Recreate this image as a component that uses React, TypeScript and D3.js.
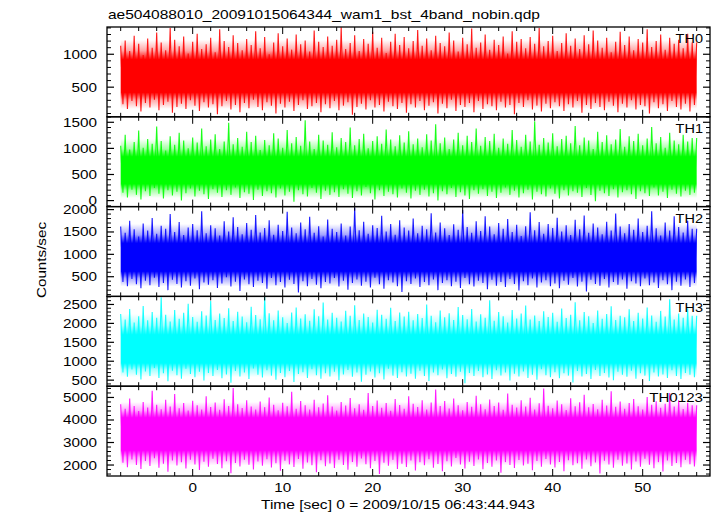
import React from "react";
import * as d3 from "d3";

// ---------- data (read/estimated from the reference) ----------
const TITLE = "ae504088010_20091015064344_wam1_bst_4band_nobin.qdp";
const X_LABEL = "Time [sec] 0 = 2009/10/15 06:43:44.943";
const Y_LABEL = "Counts/sec";
const PANEL_NAMES = ["TH0", "TH1", "TH2", "TH3", "TH0123"];
const PANEL_COLORS = ["#ff0000", "#00ff00", "#0000ff", "#00ffff", "#ff00ff"];
const T_START = -8;
const T_END = 56;
const X_DOMAIN = [-9.52, 57.48];
const X_MAJOR = [0, 10, 20, 30, 40, 50];
const Y_DOMAINS = [
  [50, 1414],
  [-115, 1605],
  [60, 2067],
  [340, 2713],
  [1513, 5500],
];
const Y_MAJOR = [
  [500, 1000],
  [0, 500, 1000, 1500],
  [500, 1000, 1500, 2000],
  [500, 1000, 1500, 2000, 2500],
  [2000, 3000, 4000, 5000],
];
const Y_MINOR_STEP = [100, 100, 100, 100, 200];
// densest band of each curve, and the range of its frequent excursions
const CORE_LOW = [420, 320, 620, 950, 2650];
const CORE_HIGH = [920, 840, 1250, 1700, 4100];
const FRINGE_LOW = [170, 50, 280, 580, 1980];
const FRINGE_HIGH = [1220, 1180, 1680, 2250, 4800];

// upper / lower excursions of each light curve, 0.5 s per value
const TH0_HI = [
  1130, 1210, 1050, 1280, 1160, 990, 1240, 1100, 1330, 1180, 1060, 1400, 1220, 1120, 1270, 1010,
  1190, 1310, 1080, 1150, 1250, 1030, 1380, 1200, 1110, 1290, 1170, 1060, 1230, 1140, 1350, 1090,
  1260, 1000, 1180, 1320, 1120, 1240, 1070, 1300, 1150, 1210, 1040, 1360, 1190, 1110, 1270, 1130,
  1220, 1410, 1080, 1170, 1290, 1050, 1230, 1160, 1340, 1100, 1250, 1020, 1190, 1310, 1140, 1260,
  1090, 1200, 1370, 1130, 1240, 1060, 1280, 1170, 1120, 1330, 1210, 1040, 1250, 1150, 1390, 1100,
  1180, 1300, 1070, 1220, 1140, 1270, 1010, 1350, 1190, 1230, 1090, 1260, 1160, 1400, 1120, 1200,
  1280, 1050, 1170, 1320, 1130, 1240, 1080, 1290, 1150, 1360, 1210, 1100, 1250, 1030, 1190, 1340,
  1140, 1270, 1060, 1230, 1180, 1380, 1110, 1200, 1300, 1070, 1250, 1160, 1220, 1090, 1310, 1180,
];
const TH0_LO = [
  240, 170, 290, 210, 130, 260, 190, 310, 150, 230, 280, 110, 200, 250, 170, 300,
  220, 140, 270, 190, 240, 90, 210, 290, 160, 230, 120, 260, 180, 310, 200, 150,
  270, 220, 100, 250, 190, 280, 140, 230, 300, 170, 210, 260, 120, 240, 180, 290,
  150, 220, 270, 80, 200, 250, 160, 300, 190, 230, 130, 280, 210, 170, 260, 110,
  240, 190, 290, 150, 220, 270, 100, 250, 180, 310, 140, 230, 200, 260, 120, 290,
  170, 240, 210, 150, 280, 190, 230, 90, 260, 200, 300, 160, 220, 130, 250, 180,
  270, 210, 140, 240, 190, 290, 110, 230, 170, 260, 200, 150, 280, 220, 120, 250,
  190, 300, 160, 230, 210, 100, 270, 180, 240, 140, 290, 200, 160, 250, 130, 230,
];
const TH1_HI = [
  1050, 1260, 980, 1120, 1340, 1010, 1180, 1090, 1420, 1140, 960, 1230, 1070, 1300, 1150, 1000,
  1210, 1110, 1380, 1040, 1170, 1270, 990, 1130, 1490, 1080, 1200, 1030, 1320, 1120, 1240, 970,
  1160, 1060, 1290, 1190, 1010, 1350, 1100, 1220, 1050, 1540, 1130, 990, 1260, 1150, 1070, 1310,
  1020, 1200, 1120, 1400, 1060, 1180, 1280, 1000, 1140, 1230, 1090, 1360, 1170, 1040, 1250, 1110,
  1330, 1080, 1190, 1020, 1270, 1150, 1460, 1100, 1210, 990, 1170, 1300, 1060, 1240, 1120, 1380,
  1050, 1220, 1140, 1280, 1010, 1190, 1090, 1350, 1160, 1030, 1260, 1130, 1520, 1070, 1200, 1110,
  1290, 1040, 1180, 1240, 1100, 1430, 1060, 1210, 1150, 990, 1320, 1120, 1250, 1080, 1170, 1370,
  1030, 1230, 1140, 1280, 1060, 1190, 1410, 1100, 1220, 1010, 1300, 1150, 1080, 1260, 1130, 1200,
];
const TH1_LO = [
  150, 60, 210, 110, 20, 180, 90, 240, 130, 40, 200, 100, 170, 0, 140, 230,
  80, 190, 120, 30, 220, 150, 70, 200, 110, 250, 50, 160, 130, 10, 210, 90,
  180, 140, 60, 230, 100, 170, -20, 200, 120, 80, 240, 150, 30, 190, 110, 160,
  70, 220, 130, 50, 180, 100, 260, 140, 20, 200, 90, 170, 120, 60, 230, 150,
  40, 190, 110, 210, 80, 140, 0, 180, 120, 240, 70, 160, 100, 30, 200, 130,
  220, 90, 170, 50, 150, 250, 110, 190, 60, 140, 210, 20, 170, 120, 80, 230,
  130, 40, 200, 100, 180, 150, 70, 240, 110, -10, 190, 140, 90, 220, 60, 160,
  200, 120, 30, 180, 140, 90, 250, 100, 170, 50, 210, 130, 80, 190, 110, 150,
];
const TH2_HI = [
  1620, 1480, 1750, 1560, 1400, 1690, 1530, 1810, 1460, 1640, 1570, 1900, 1500, 1720, 1430, 1600,
  1680, 1540, 1960, 1470, 1650, 1580, 1420, 1740, 1510, 1830, 1610, 1450, 1700, 1550, 1880, 1490,
  1590, 1760, 1440, 1660, 1520, 1950, 1600, 1470, 1710, 1560, 1840, 1480, 1630, 1400, 1780, 1570,
  1500, 1690, 1420, 1620, 2040, 1540, 1730, 1460, 1650, 1590, 1860, 1510, 1680, 1440, 1760, 1600,
  1530, 1800, 1470, 1640, 1560, 1920, 1490, 1710, 1580, 1430, 1670, 1550, 1990, 1610, 1480, 1740,
  1520, 1850, 1620, 1450, 1700, 1570, 1790, 1500, 1660, 1410, 1630, 1940, 1540, 1720, 1460, 1680,
  1590, 1820, 1510, 1650, 1430, 1770, 1560, 1870, 1480, 1690, 1600, 1450, 1730, 1530, 1910, 1620,
  1470, 1680, 1550, 1800, 1500, 1640, 1960, 1580, 1420, 1710, 1530, 1850, 1610, 1490, 1750, 1570,
];
const TH2_LO = [
  380, 290, 450, 330, 240, 410, 310, 480, 270, 360, 200, 430, 340, 260, 400, 300,
  460, 220, 370, 320, 420, 250, 350, 490, 280, 390, 180, 440, 330, 270, 410, 360,
  230, 470, 310, 380, 260, 430, 340, 150, 400, 290, 450, 320, 240, 380, 350, 470,
  280, 410, 210, 360, 440, 300, 390, 260, 480, 330, 230, 420, 370, 290, 160, 400,
  340, 460, 270, 380, 310, 440, 200, 360, 420, 290, 390, 250, 470, 330, 280, 410,
  360, 220, 430, 300, 380, 270, 450, 340, 190, 400, 310, 460, 260, 370, 420, 290,
  350, 240, 410, 320, 470, 280, 390, 170, 430, 340, 300, 450, 260, 380, 320, 440,
  230, 400, 350, 290, 460, 310, 370, 250, 420, 330, 200, 390, 300, 440, 270, 360,
];
const TH3_HI = [
  2250, 2100, 2380, 2020, 2190, 2460, 2080, 2300, 2150, 2690, 2230, 2050, 2350, 2120, 2280, 2520,
  2170, 2040, 2320, 2210, 2590, 2090, 2260, 2140, 2400, 2060, 2310, 2180, 2030, 2440, 2220, 2110,
  2700, 2270, 2080, 2340, 2160, 2010, 2290, 2420, 2130, 2240, 2070, 2370, 2190, 2550, 2100, 2280,
  2150, 2050, 2330, 2200, 2480, 2090, 2260, 2170, 2020, 2360, 2230, 2120, 2410, 2060, 2290, 2180,
  2310, 2080, 2250, 2140, 2500, 2200, 2030, 2340, 2160, 2270, 2090, 2430, 2220, 2110, 2380, 2050,
  2240, 2150, 2610, 2070, 2300, 2190, 2020, 2350, 2130, 2260, 2470, 2100, 2210, 2060, 2320, 2170,
  2280, 2040, 2390, 2140, 2230, 2560, 2080, 2300, 2190, 2010, 2340, 2120, 2250, 2450, 2090, 2200,
  2160, 2370, 2060, 2280, 2130, 2420, 2210, 2040, 2330, 2180, 2640, 2100, 2260, 2150, 2400, 2200,
];
const TH3_LO = [
  700, 590, 780, 640, 520, 730, 610, 820, 560, 680, 470, 750, 630, 540, 800, 660,
  580, 720, 490, 690, 610, 770, 550, 650, 430, 740, 600, 700, 530, 810, 640, 570,
  760, 620, 510, 690, 580, 740, 450, 660, 710, 560, 790, 630, 540, 680, 600, 720,
  500, 650, 770, 590, 700, 460, 640, 730, 570, 680, 520, 800, 620, 560, 710, 600,
  670, 540, 750, 610, 480, 700, 630, 780, 550, 660, 590, 720, 420, 690, 610, 740,
  580, 650, 530, 760, 620, 700, 490, 670, 600, 730, 560, 640, 510, 790, 630, 580,
  710, 550, 680, 620, 440, 740, 600, 660, 530, 770, 610, 690, 570, 500, 720, 640,
  590, 750, 540, 680, 620, 480, 700, 600, 650, 560, 760, 610, 530, 690, 640, 580,
];
const TH0123_HI = [
  4700, 4500, 4950, 4620, 4400, 4800, 4550, 5300, 4680, 4480, 4900, 4600, 5150, 4520, 4750, 4420,
  4850, 4650, 4470, 5050, 4580, 4780, 4450, 4920, 4620, 5420, 4700, 4530, 4880, 4600, 4460, 4820,
  4570, 5000, 4680, 4430, 4760, 4610, 5250, 4500, 4840, 4650, 4470, 4900, 4560, 4730, 5100, 4600,
  4420, 4800, 4640, 4980, 4520, 4700, 4450, 5200, 4620, 4860, 4540, 4750, 4410, 4930, 4660, 4500,
  5050, 4720, 4580, 4880, 4460, 4780, 5350, 4620, 4840, 4510, 4950, 4650, 4430, 4800, 4590, 5080,
  4700, 4480, 4910, 4620, 4770, 4450, 5180, 4680, 4550, 4870, 4600, 4990, 4470, 4740, 5400, 4630,
  4520, 4860, 4700, 4440, 4960, 4610, 4790, 5120, 4560, 4710, 4480, 4900, 4640, 5280, 4590, 4820,
  4500, 4750, 4930, 4610, 4460, 5020, 4680, 4830, 4540, 4720, 5200, 4600, 4870, 4490, 4760, 4650,
];
const TH0123_LO = [
  2100, 1900, 2250, 2000, 1820, 2180, 1960, 2300, 1880, 2060, 1700, 2200, 1980, 2120, 1850, 2240,
  2020, 1780, 2150, 1920, 2280, 2050, 1860, 2170, 1640, 2090, 1940, 2230, 2010, 1800, 2160, 1970,
  2260, 1890, 2080, 1750, 2190, 2030, 1910, 2270, 1840, 2110, 1990, 1680, 2210, 1950, 2070, 1870,
  2240, 2000, 1790, 2140, 1930, 2290, 2040, 1860, 2180, 1600, 2100, 1970, 2230, 1830, 2060, 1910,
  2200, 1760, 2120, 1990, 2260, 1880, 2050, 1720, 2170, 1940, 2310, 2020, 1850, 2150, 1960, 2250,
  1810, 2090, 1930, 2200, 1660, 2130, 2000, 1870, 2220, 1980, 2060, 1770, 2180, 1920, 2270, 2030,
  1890, 2140, 1730, 2210, 1990, 2080, 1840, 2250, 1950, 2110, 1620, 2190, 2020, 1880, 2240, 1970,
  2070, 1800, 2160, 1930, 2280, 2010, 1860, 2130, 1710, 2200, 1960, 2090, 1900, 2230, 2040, 1940,
];
const SERIES_HI = [TH0_HI, TH1_HI, TH2_HI, TH3_HI, TH0123_HI];
const SERIES_LO = [TH0_LO, TH1_LO, TH2_LO, TH3_LO, TH0123_LO];

// ---------- layout ----------
const W = 717;
const H = 516;
const LEFT = 107;
const RIGHT = 710;
const TOP = 27;
const BOTTOM = 476;
const FONT = "'Liberation Sans', Arial, Helvetica, sans-serif";

export default function App() {
  const nP = PANEL_NAMES.length;
  const ph = (BOTTOM - TOP) / nP;
  const x = d3.scaleLinear().domain(X_DOMAIN).range([LEFT, RIGHT]);
  const xMinor = d3.range(T_START, T_END + 0.001, 2);

  return (
    <svg
      width={W}
      height={H}
      viewBox={`0 0 ${W} ${H}`}
      style={{ position: "absolute", left: 0, top: 0, background: "#fff" }}
    >
      <rect x={0} y={0} width={W} height={H} fill="#fff" />
      <text
        x={LEFT + 1}
        y={19}
        fontFamily={FONT}
        fontSize={13}
        textLength={432}
        lengthAdjust="spacingAndGlyphs"
      >
        {TITLE}
      </text>
      {PANEL_NAMES.map((name, p) => {
        const y0 = TOP + p * ph;
        const y1 = y0 + ph;
        const y = d3.scaleLinear().domain(Y_DOMAINS[p]).range([y1, y0]);
        const hi = SERIES_HI[p];
        const lo = SERIES_LO[p];
        const n = hi.length;
        const dt = (T_END - T_START) / n;
        const pts: [number, number][] = [];
        for (let i = 0; i < n; i++) {
          pts.push([T_START + i * dt, hi[i]]);
          pts.push([T_START + i * dt + dt / 2, lo[i]]);
        }
        pts.push([T_END, hi[n - 1]]);
        const line = d3
          .line<[number, number]>()
          .x((d) => x(d[0]))
          .y((d) => y(d[1]));
        const dom = Y_DOMAINS[p];
        const minorTicks = d3
          .range(Math.ceil(dom[0] / Y_MINOR_STEP[p]) * Y_MINOR_STEP[p], dom[1], Y_MINOR_STEP[p])
          .filter((v) => !Y_MAJOR[p].includes(v));
        const clipId = `clip${p}`;
        const gradId = `grad${p}`;
        const gTop = y(FRINGE_HIGH[p]);
        const gBot = y(FRINGE_LOW[p]);
        const off = (v: number) => (y(v) - gTop) / (gBot - gTop);
        const c = PANEL_COLORS[p];
        return (
          <g key={name}>
            <defs>
              <clipPath id={clipId}>
                <rect x={LEFT} y={y0} width={RIGHT - LEFT} height={ph} />
              </clipPath>
              <linearGradient
                id={gradId}
                gradientUnits="userSpaceOnUse"
                x1={0}
                x2={0}
                y1={gTop}
                y2={gBot}
              >
                <stop offset={0} stopColor={c} stopOpacity={0} />
                <stop offset={off(CORE_HIGH[p]) * 0.55} stopColor={c} stopOpacity={0.35} />
                <stop offset={off(CORE_HIGH[p])} stopColor={c} stopOpacity={1} />
                <stop offset={off(CORE_LOW[p])} stopColor={c} stopOpacity={1} />
                <stop offset={off(CORE_LOW[p]) + (1 - off(CORE_LOW[p])) * 0.45} stopColor={c} stopOpacity={0.35} />
                <stop offset={1} stopColor={c} stopOpacity={0} />
              </linearGradient>
            </defs>
            <g clipPath={`url(#${clipId})`}>
              <rect
                x={x(T_START)}
                y={gTop}
                width={x(T_END) - x(T_START)}
                height={gBot - gTop}
                fill={`url(#${gradId})`}
              />
              <path
                d={line(pts) || ""}
                fill="none"
                stroke={c}
                strokeWidth={1.1}
                strokeOpacity={0.9}
                strokeLinejoin="miter"
                strokeMiterlimit={2}
              />
            </g>
            {/* frame */}
            <rect
              x={LEFT}
              y={y0}
              width={RIGHT - LEFT}
              height={ph}
              fill="none"
              stroke="#000"
              strokeWidth={1.3}
            />
            {/* y ticks */}
            {Y_MAJOR[p].map((v) => (
              <g key={`M${v}`}>
                <line x1={LEFT} x2={LEFT + 7} y1={y(v)} y2={y(v)} stroke="#000" strokeWidth={1.2} />
                <line x1={RIGHT} x2={RIGHT - 7} y1={y(v)} y2={y(v)} stroke="#000" strokeWidth={1.2} />
                <text
                  x={97}
                  y={y(v) + 4.5}
                  textAnchor="end"
                  fontFamily={FONT}
                  fontSize={13}
                  textLength={String(v).length * 8.5}
                  lengthAdjust="spacingAndGlyphs"
                >
                  {v}
                </text>
              </g>
            ))}
            {minorTicks.map((v) => (
              <g key={`m${v}`}>
                <line x1={LEFT} x2={LEFT + 4} y1={y(v)} y2={y(v)} stroke="#000" strokeWidth={1} />
                <line x1={RIGHT} x2={RIGHT - 4} y1={y(v)} y2={y(v)} stroke="#000" strokeWidth={1} />
              </g>
            ))}
            {/* x ticks, top and bottom of each panel */}
            {xMinor.map((t) => {
              const major = X_MAJOR.includes(t);
              const len = major ? 7 : 4;
              return (
                <g key={`x${t}`}>
                  <line x1={x(t)} x2={x(t)} y1={y0} y2={y0 + len} stroke="#000" strokeWidth={1} />
                  <line x1={x(t)} x2={x(t)} y1={y1} y2={y1 - len} stroke="#000" strokeWidth={1} />
                </g>
              );
            })}
            <text
              x={703}
              y={y0 + 16}
              textAnchor="end"
              fontFamily={FONT}
              fontSize={13}
              textLength={name.length * 8.8 + 1}
              lengthAdjust="spacingAndGlyphs"
            >
              {name}
            </text>
          </g>
        );
      })}
      {X_MAJOR.map((t) => (
        <text
          key={`xl${t}`}
          x={x(t)}
          y={492}
          textAnchor="middle"
          fontFamily={FONT}
          fontSize={13}
          textLength={String(t).length * 8.5}
          lengthAdjust="spacingAndGlyphs"
        >
          {t}
        </text>
      ))}
      <text
        x={261}
        y={509}
        fontFamily={FONT}
        fontSize={13}
        textLength={274}
        lengthAdjust="spacingAndGlyphs"
      >
        {X_LABEL}
      </text>
      <text
        transform={`translate(46,260) rotate(-90)`}
        textAnchor="middle"
        fontFamily={FONT}
        fontSize={13}
        textLength={76}
        lengthAdjust="spacingAndGlyphs"
      >
        {Y_LABEL}
      </text>
    </svg>
  );
}
